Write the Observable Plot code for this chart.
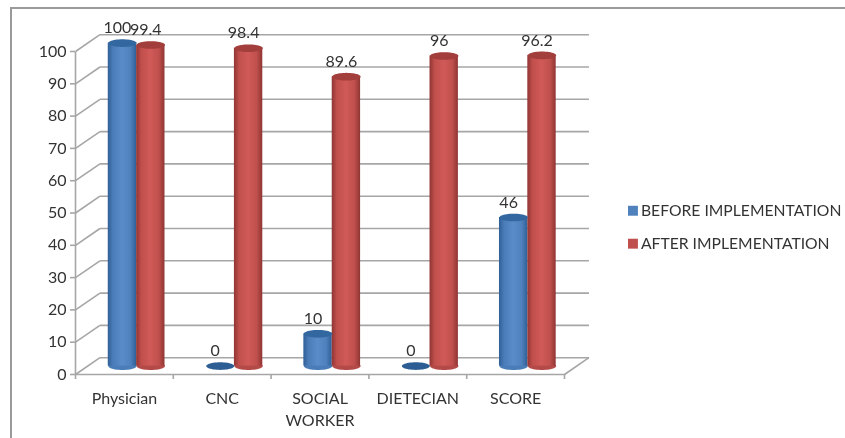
<!DOCTYPE html>
<html>
<head>
<meta charset="utf-8">
<script src="https://cdn.jsdelivr.net/npm/d3@7"></script>
<script src="https://cdn.jsdelivr.net/npm/@observablehq/plot@0.6"></script>
<style>
html,body{margin:0;padding:0;background:#fff;}
#chart{position:relative;width:845px;height:438px;overflow:hidden;}
#chart svg{display:block;filter:blur(0.45px);}
#edge{position:absolute;left:10px;top:7px;width:835px;height:440px;border-left:2px solid #9a9a9a;border-top:2px solid #9a9a9a;box-sizing:border-box;}
</style>
</head>
<body>
<div id="chart"><div id="edge"></div></div>
<script>
const categories = ["Physician", "CNC", "SOCIAL\nWORKER", "DIETECIAN", "SCORE"];
const before = [100, 0, 10, 0, 46];
const after = [99.4, 98.4, 89.6, 96, 96.2];
const yTicks = [0, 10, 20, 30, 40, 50, 60, 70, 80, 90, 100];
const seriesNames = ["BEFORE IMPLEMENTATION", "AFTER IMPLEMENTATION"];

const depthX = 0.25, depthY = 5.2, barW = 0.29;
const FONT = "Lato, 'Open Sans', sans-serif", INK = "#333333", GRID = "#a6a6a6";

const rows = categories.flatMap((c, i) => [
  {i, series: 0, value: before[i]},
  {i, series: 1, value: after[i]}
]);
const cx = d => d.i + 0.5 + depthX / 2 + (d.series === 0 ? -barW / 2 : barW / 2);
const base = depthY / 2;
const standing = rows.filter(d => d.value > 0);
const flat = rows.filter(d => d.value === 0);

// flattened circle, used for the cylinder caps
const ellipse = {draw(ctx, size) {
  const rx = Math.sqrt(size / Math.PI), ry = rx * 0.27;
  ctx.moveTo(rx, 0);
  for (let k = 1; k <= 48; ++k) {
    const t = k / 48 * 2 * Math.PI;
    ctx.lineTo(rx * Math.cos(t), ry * Math.sin(t));
  }
  ctx.closePath();
}};

function gradients() {
  const defs = d3.create("svg:defs");
  const stops = {
    grad0: ["#2f5f96", "#4a7cb8", "#5a8cc9", "#4f81bd", "#2f5f96"],
    grad1: ["#8f3533", "#c04f4c", "#d05a57", "#c0504d", "#8f3533"]
  };
  for (const id in stops) {
    const g = defs.append("linearGradient").attr("id", id);
    stops[id].forEach((c, k) => g.append("stop")
      .attr("offset", [0, 0.18, 0.5, 0.8, 1][k]).attr("stop-color", c));
  }
  return defs.node();
}

const plot = Plot.plot({
  width: 845, height: 438,
  marginLeft: 75, marginRight: 281, marginTop: 51, marginBottom: 64,
  x: {type: "linear", domain: [0, 5], axis: null},
  y: {domain: [0, 100], axis: null},
  style: {background: "transparent", fontFamily: FONT},
  marks: [
    gradients,
    // back wall grid
    Plot.link(yTicks, {x1: depthX, x2: 5 + depthX, y1: d => d + depthY, y2: d => d + depthY, stroke: GRID, strokeWidth: 1.6}),
    // left wall diagonals
    Plot.link(yTicks, {x1: 0, x2: depthX, y1: d => d, y2: d => d + depthY, stroke: GRID, strokeWidth: 1.6}),
    // floor
    Plot.link([0], {x1: 0, x2: 5, y1: 0, y2: 0, stroke: GRID, strokeWidth: 1.6}),
    Plot.link([0], {x1: 5, x2: 5 + depthX, y1: 0, y2: depthY, stroke: GRID, strokeWidth: 1.6}),
    Plot.link([0], {x1: 0, x2: 0, y1: 0, y2: 100, stroke: GRID, strokeWidth: 1.6}),
    // axes
    Plot.axisY({ticks: yTicks, anchor: "left", tickSize: 5, tickPadding: 4, stroke: GRID, fill: INK, fontSize: 16, label: null, strokeWidth: 1.6}),
    Plot.axisX({ticks: d3.range(0, 6), anchor: "bottom", tickSize: 5, tickFormat: () => "", stroke: GRID, label: null, strokeWidth: 1.6}),
    Plot.axisX({ticks: d3.range(0, 5).map(i => i + 0.5), anchor: "bottom", tickSize: 0, tickPadding: 14, stroke: "none", fill: INK,
      tickFormat: d => categories[d - 0.5], fontSize: 16, lineHeight: 1.38, lineAnchor: "top", label: null}),
    // flat cylinders for the zero values
    Plot.dot(flat, {x: cx, y: base, r: 14, symbol: ellipse, fill: "#2c5d93", stroke: "none"}),
    // cylinder feet
    Plot.dot(standing, {x: cx, y: base, r: 14.2, symbol: ellipse, fill: d => d.series ? "#b34a47" : "#4a7cb8", stroke: "none"}),
    // cylinder bodies
    Plot.rect(standing, {
      x1: d => cx(d) - barW / 2, x2: d => cx(d) + barW / 2,
      y1: base, y2: d => d.value + base,
      fill: d => `url(#grad${d.series})`, inset: 0
    }),
    // cylinder tops
    Plot.dot(standing, {x: cx, y: d => d.value + base, r: 14.2, symbol: ellipse, fill: d => d.series ? "#a23f3d" : "#33679f", stroke: "none"}),
    // value labels
    Plot.text(rows, {x: cx, y: d => d.value + base, text: d => String(d.value), dx: -5, dy: -15, fontSize: 16, fill: INK}),
    // legend
    Plot.dot(seriesNames, {x: 5.7, y: (d, k) => k ? 40.5 : 50.7, r: 5.6, symbol: "square", fill: (d, k) => k ? "#c0504d" : "#4f81bd", stroke: "none"}),
    Plot.text(seriesNames, {x: 5.7, y: (d, k) => k ? 40.5 : 50.7, text: d => d, dx: 8, textAnchor: "start", fontSize: 15.7, fill: INK})
  ]
});
document.getElementById("chart").prepend(plot);
</script>
</body>
</html>
